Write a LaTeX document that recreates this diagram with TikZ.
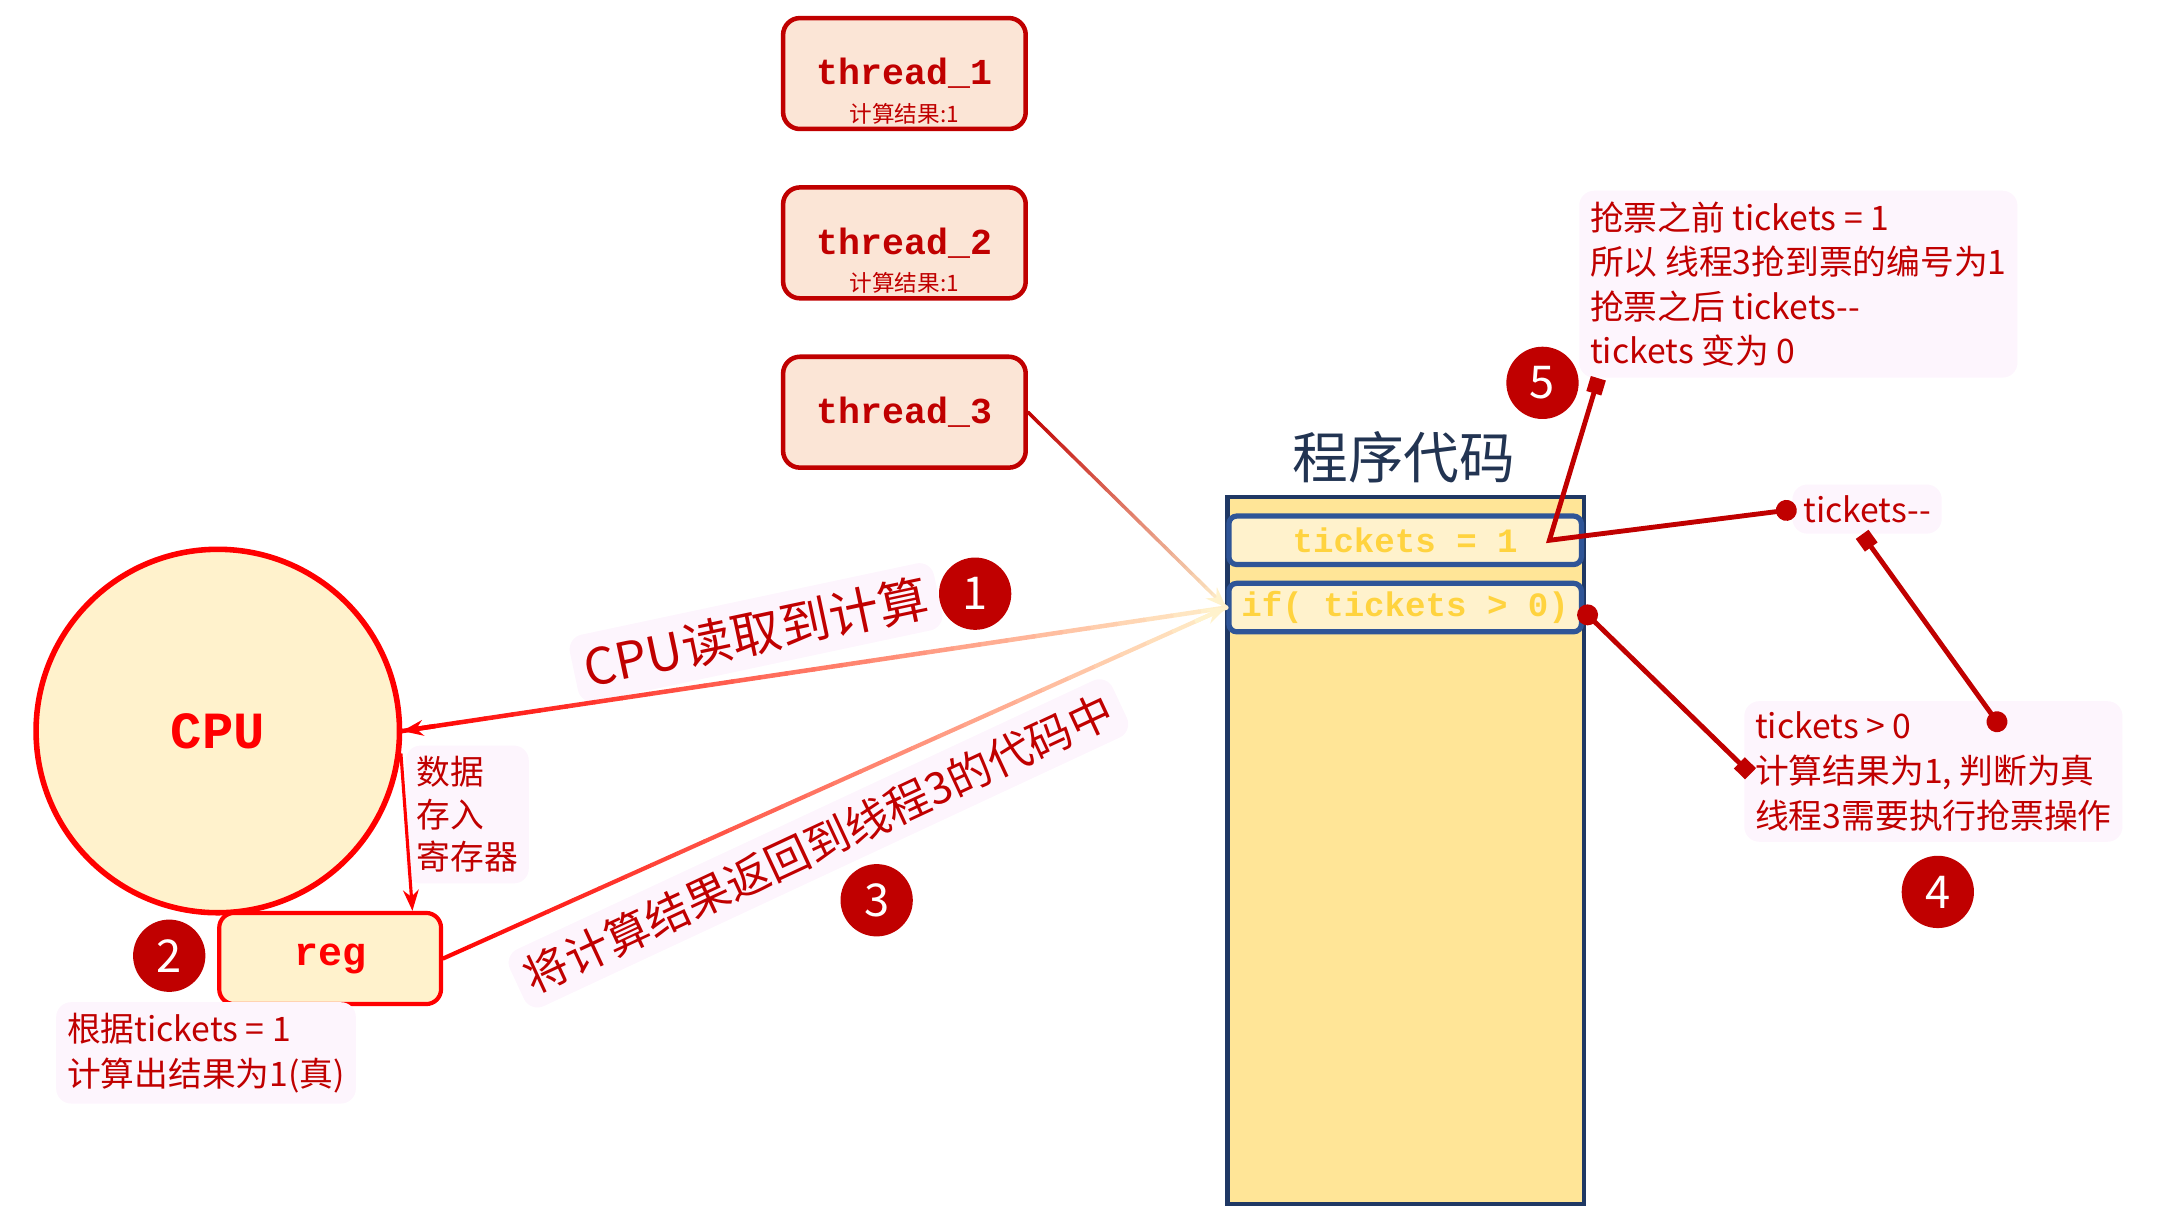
\documentclass[tikz,border=0pt]{standalone}
\usepackage{fontspec}
\setmonofont{Liberation Mono}
\newfontfamily\cjk{Noto Sans CJK SC}
\usetikzlibrary{positioning,calc,arrows.meta}
\definecolor{dred}{HTML}{C00000}
\definecolor{cream}{HTML}{FFF2CC}
\definecolor{gold}{HTML}{FFE597}
\definecolor{navy}{HTML}{1F3864}
\definecolor{rowblue}{HTML}{2F5597}
\definecolor{pinkbg}{HTML}{FBE5D6}
\definecolor{notebg}{HTML}{FDF5FD}
\definecolor{codetxt}{HTML}{FFD33F}
\definecolor{titlec}{HTML}{223452}

\begin{document}
\begin{tikzpicture}[x=0.014cm, y=-0.014cm, node distance=1.71cm,
  thread/.style = {draw=dred, fill=pinkbg, line width=1.3pt, rounded corners=0.17cm, minimum width=2.45cm, minimum height=1.12cm, text=dred, font=\ttfamily\bfseries\fontsize{10.5}{12}\selectfont},
  sub/.style = {text=dred, inner sep=0pt, font=\cjk\fontsize{6.5}{7}\selectfont},
  code/.style = {draw=navy, fill=gold, line width=1.3pt, minimum width=3.6cm, minimum height=7.14cm, inner sep=0pt},
  row/.style = {draw=rowblue, fill=cream, line width=1.5pt, rounded corners=0.08cm, minimum width=3.56cm, minimum height=0.49cm, inner sep=0pt, text=codetxt, font=\ttfamily\bfseries\fontsize{9.8}{11}\selectfont},
  cpu/.style = {circle, draw=red, fill=cream, line width=1.6pt, minimum size=3.67cm, text=red, font=\ttfamily\bfseries\fontsize{15}{17}\selectfont},
  reg/.style = {draw=red, fill=cream, line width=1.2pt, rounded corners=0.15cm, minimum width=2.24cm, minimum height=0.92cm, text=red, font=\ttfamily\bfseries\fontsize{11.5}{13}\selectfont},
  badge/.style = {circle, fill=dred, text=white, minimum size=0.73cm, inner sep=0pt, font=\cjk\fontsize{13}{13}\selectfont},
  note/.style = {fill=notebg, rounded corners=0.15cm, text=dred, align=left, inner sep=0.11cm, font=\cjk\fontsize{9.7}{12.8}\selectfont},
  link/.style = {draw=dred, line width=1.4pt}]
  \useasboundingbox (0,0) rectangle (1568,879.6);

  % threads
  \node[thread] (t1) at (652,53) {thread\_1};
  \node[thread] (t2) [below of=t1] {thread\_2};
  \node[thread] (t3) [below of=t2] {thread\_3};
  \node[sub] at ([yshift=0.18cm]t1.south) {计算结果:1};
  \node[sub] at ([yshift=0.18cm]t2.south) {计算结果:1};

  % code block
  \node[code] (code) at (1013.5,613) {};
  \node[font=\cjk\fontsize{16}{18}\selectfont, text=titlec] (title) at (1012,330) {程序代码};
  \node[row] (r1) at (1013,389.5) {tickets = 1};
  \node[row] (r2) at (1013,438) {if( tickets > 0)};

  % cpu and register
  \node[cpu] (cpu) at (157,527) {CPU};
  \node[reg] (reg) at (238,691) {reg};

  % notes
  \node[note, anchor=north west] (n5) at (1138,137) {抢票之前 tickets = 1\\所以 线程3抢到票的编号为1\\抢票之后 tickets-{}-\\tickets 变为 0};
  \node[note] (dec) at (1346,367) {tickets-{}-};
  \node[note, anchor=north west] (n4) at (1257,505) {tickets > 0\\计算结果为1, 判断为真\\线程3需要执行抢票操作};
  \node[note, anchor=north west] (n2) at (40,722) {根据tickets = 1\\计算出结果为1(真)};
  \node[note, anchor=north west, font=\cjk\fontsize{9.7}{12.2}\selectfont] (nd) at (292,537) {数据\\存入\\寄存器};
  \node[note, rotate=12, font=\cjk\fontsize{14.4}{16}\selectfont] (n1) at (545,456) {CPU读取到计算};
  \node[note, rotate=25, font=\cjk\fontsize{12.7}{14}\selectfont] (n3) at (590,608) {将计算结果返回到线程3的代码中};

  % badges
  \node[badge] (b1) at (703,428) {1};
  \node[badge] (b2) at (122,689) {2};
  \node[badge] (b3) at (632,649) {3};
  \node[badge] (b4) at (1397,643) {4};
  \node[badge] (b5) at (1112,276) {5};

  % fading lines
  \foreach \a/\b/\ca/\cb/\w in {r2.west/cpu.east/cream/red/1.3pt, t3.east/r2.west/dred/cream/1pt, reg.east/r2.west/red/cream/1.2pt} {
    \foreach \i in {1,...,30} {
      \pgfmathsetmacro\p{100*(\i-0.5)/30}
      \draw[line width=\w, line cap=round, color=\cb!\p!\ca] ($(\a)!{(\i-1)/30}!(\b)$) -- ($(\a)!{\i/30}!(\b)$);
    }
    \draw[line width=\w, color=\cb, -{Stealth[length=6pt, width=4.5pt]}] ($(\a)!0.96!(\b)$) -- (\b);
  }
  \draw[red, line width=0.9pt, -{Stealth[length=6pt, width=4.5pt]}] (cpu.-7) -- ([xshift=-0.31cm]reg.north east);

  % callouts
  \coordinate (p5) at ([xshift=0.2cm]n5.south west);
  \coordinate (p1) at ([xshift=-0.35cm]r1.east);
  \draw[link, {Square[length=4.5pt]}-{Circle[length=6pt]}] (p5) -- (p1) -- ([xshift=0.05cm]dec.west);
  \draw[link, {Square[length=4.5pt]}-{Circle[length=6pt]}] ([xshift=-0.05cm]dec.south) -- ([xshift=2.62cm, yshift=-0.3cm]n4.north west);
  \draw[link, {Circle[length=6pt]}-{Square[length=4.5pt]}] ([xshift=-0.04cm]r2.east) -- ([xshift=0.07cm, yshift=-0.74cm]n4.north west);
\end{tikzpicture}
\end{document}
